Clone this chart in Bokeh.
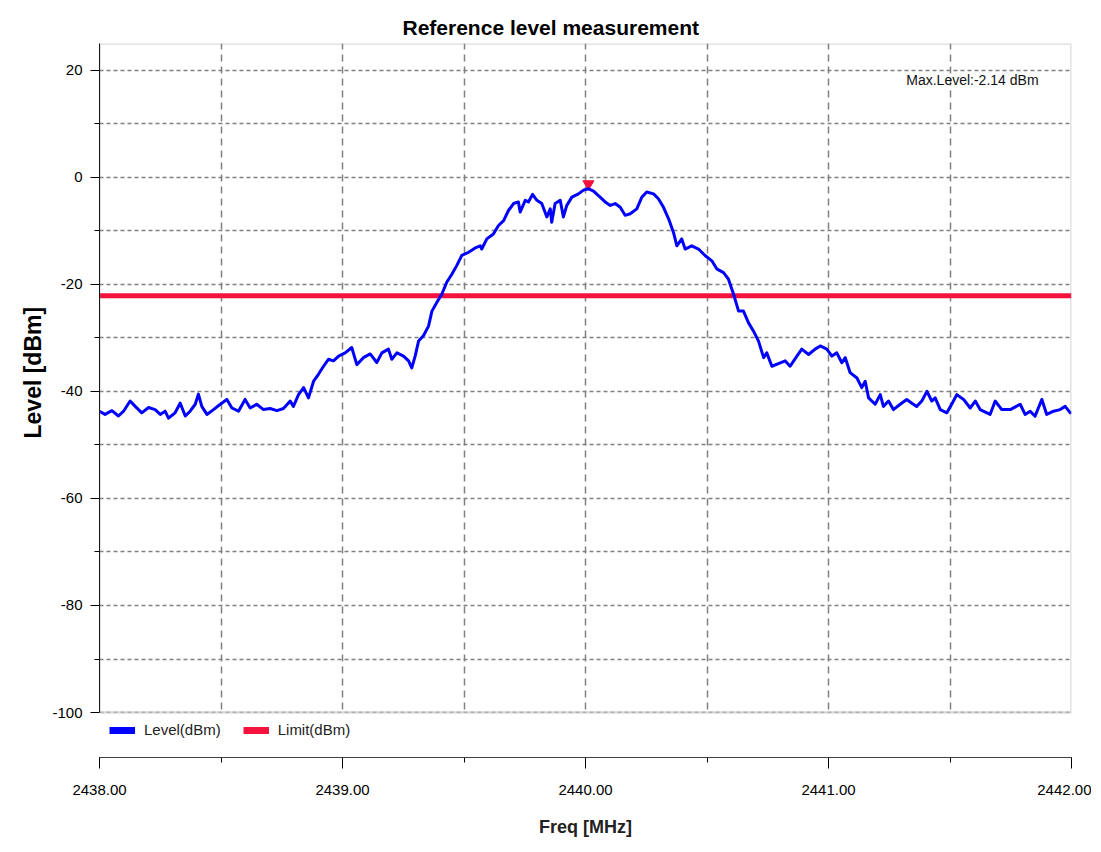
from bokeh.plotting import figure
from bokeh.models import (ColumnDataSource, Range1d, SingleIntervalTicker, Title,
                          NumeralTickFormatter, Legend, LegendItem, Label, BoxAnnotation)
from bokeh.embed import file_html
from bokeh.resources import INLINE

# ---------------- data ----------------
freq = [2438.000, 2438.023, 2438.051, 2438.078, 2438.099, 2438.126, 2438.147, 2438.174, 2438.202, 2438.229,
        2438.250, 2438.270, 2438.284, 2438.311, 2438.332, 2438.353, 2438.373, 2438.394, 2438.407, 2438.421,
        2438.442, 2438.469, 2438.497, 2438.524, 2438.545, 2438.572, 2438.599, 2438.620, 2438.647, 2438.675,
        2438.702, 2438.730, 2438.757, 2438.785, 2438.798, 2438.819, 2438.840, 2438.860, 2438.881, 2438.901,
        2438.922, 2438.942, 2438.963, 2438.984, 2439.011, 2439.038, 2439.059, 2439.086, 2439.114, 2439.141,
        2439.162, 2439.189, 2439.203, 2439.224, 2439.251, 2439.272, 2439.285, 2439.299, 2439.313, 2439.333,
        2439.354, 2439.368, 2439.388, 2439.409, 2439.429, 2439.450, 2439.470, 2439.491, 2439.519, 2439.546,
        2439.567, 2439.573, 2439.594, 2439.621, 2439.642, 2439.663, 2439.683, 2439.704, 2439.724, 2439.731,
        2439.752, 2439.765, 2439.782, 2439.800, 2439.820, 2439.841, 2439.855, 2439.861, 2439.875, 2439.896,
        2439.909, 2439.923, 2439.944, 2439.971, 2439.992, 2440.012, 2440.033, 2440.060, 2440.081, 2440.102,
        2440.122, 2440.143, 2440.163, 2440.184, 2440.211, 2440.232, 2440.252, 2440.280, 2440.300, 2440.321,
        2440.342, 2440.362, 2440.376, 2440.396, 2440.410, 2440.437, 2440.465, 2440.492, 2440.520, 2440.540,
        2440.568, 2440.588, 2440.609, 2440.630, 2440.650, 2440.671, 2440.691, 2440.712, 2440.733, 2440.746,
        2440.767, 2440.794, 2440.822, 2440.842, 2440.870, 2440.890, 2440.918, 2440.945, 2440.966, 2440.993,
        2441.014, 2441.034, 2441.055, 2441.069, 2441.089, 2441.117, 2441.137, 2441.151, 2441.165, 2441.192,
        2441.213, 2441.226, 2441.247, 2441.267, 2441.295, 2441.322, 2441.343, 2441.363, 2441.384, 2441.405,
        2441.425, 2441.439, 2441.460, 2441.487, 2441.507, 2441.528, 2441.556, 2441.583, 2441.604, 2441.624,
        2441.665, 2441.686, 2441.713, 2441.748, 2441.789, 2441.809, 2441.830, 2441.850, 2441.878, 2441.898,
        2441.926, 2441.953, 2441.974, 2441.995, 2442.000]

level = [-43.7, -44.3, -43.6, -44.6, -43.7, -41.8, -42.8, -44.0, -43.0, -43.4,
         -44.3, -43.7, -45.0, -44.0, -42.2, -44.6, -43.7, -42.4, -40.5, -42.8,
         -44.3, -43.4, -42.4, -41.5, -43.1, -43.7, -41.5, -43.1, -42.4, -43.4,
         -43.2, -43.6, -43.2, -41.8, -42.8, -40.6, -39.3, -41.2, -38.1, -36.8,
         -35.3, -34.0, -34.3, -33.4, -32.8, -31.8, -35.0, -33.7, -33.0, -34.6,
         -32.8, -32.1, -34.0, -32.8, -33.4, -34.3, -35.6, -33.4, -30.6, -29.6,
         -27.8, -25.0, -23.4, -21.8, -19.6, -18.1, -16.5, -14.6, -14.0, -13.2,
         -12.8, -13.4, -11.5, -10.6, -9.0, -8.1, -6.2, -4.9, -4.6, -6.5,
         -4.3, -4.6, -3.2, -4.3, -4.9, -7.4, -5.9, -8.4, -4.9, -4.3,
         -7.4, -5.25, -3.7, -3.1, -2.4, -2.14, -2.6, -3.7, -4.6, -5.25,
         -4.9, -5.6, -7.1, -6.8, -5.9, -3.7, -2.75, -3.1, -4.0, -5.6,
         -7.75, -10.3, -12.8, -11.5, -13.4, -12.8, -13.4, -14.6, -15.6, -17.1,
         -17.8, -19.0, -21.8, -25.0, -25.0, -27.2, -28.7, -30.6, -33.7, -32.8,
         -35.3, -34.8, -34.3, -35.3, -33.4, -32.1, -33.1, -32.1, -31.5, -32.1,
         -33.4, -32.8, -34.65, -33.7, -36.5, -37.5, -39.3, -38.1, -41.2, -42.4,
         -40.6, -42.8, -41.8, -43.4, -42.4, -41.5, -42.2, -42.8, -41.8, -40.0,
         -41.8, -41.2, -43.4, -44.0, -42.4, -40.6, -41.5, -43.1, -41.8, -43.4,
         -44.3, -41.8, -43.4, -43.4, -42.4, -44.3, -43.7, -44.65, -41.5, -44.3,
         -43.7, -43.4, -42.8, -44.0, -44.0]

limit_level = -22.14
title_text = "Reference level measurement"
x_label = "Freq [MHz]"
y_label = "Level [dBm]"
series_names = ["Level(dBm)", "Limit(dBm)"]

# axis extents
Y_MIN, Y_MAX = -100, 25
X_MIN, X_MAX = 2438, 2442
LEGEND_STRIP = 8.4   # dB of extra room below the grid for the legend strip

# ---------------- styling ----------------
FONT = "Liberation Sans"
BLUE = "#0000ff"
RED = "#f5123c"
GRID = "#808080"

p = figure(frame_width=972, frame_height=714,
           x_range=Range1d(X_MIN, X_MAX), y_range=Range1d(Y_MIN - LEGEND_STRIP, Y_MAX),
           output_backend="svg", toolbar_location=None,
           min_border_left=99, min_border_right=20, min_border_top=43, min_border_bottom=0,
           background_fill_color="white", border_fill_color="white")

p.outline_line_color = None

# title
p.title.text = title_text
p.title.align = "left"
p.title.offset = 303
p.title.text_font = FONT
p.title.text_font_size = "21px"
p.title.text_font_style = "bold"
p.title.text_color = "#000000"

# y axis
yax = p.yaxis[0]
yax.ticker = SingleIntervalTicker(interval=20, num_minor_ticks=2)
yax.formatter = NumeralTickFormatter(format="0")
yax.bounds = (Y_MIN, Y_MAX)
yax.major_label_text_font = FONT
yax.major_label_text_font_size = "15px"
yax.major_label_text_color = "#000000"
yax.major_label_standoff = 8
yax.major_tick_out = 9
yax.major_tick_in = 0
yax.minor_tick_out = 5
yax.minor_tick_in = 0
yax.axis_line_color = "#000000"
yax.major_tick_line_color = "#000000"
yax.minor_tick_line_color = "#000000"

# y axis title, centred on the -100..25 part of the frame
p.add_layout(Title(text=y_label, align="left", offset=319, text_font=FONT,
                   text_font_size="23px", text_font_style="bold", text_color="#000000",
                   standoff=8), "left")

# x axis
xax = p.xaxis[0]
xax.ticker = SingleIntervalTicker(interval=1, num_minor_ticks=2)
xax.formatter = NumeralTickFormatter(format="0.00")
xax.axis_label = x_label
xax.axis_label_text_font = FONT
xax.axis_label_text_font_size = "18px"
xax.axis_label_text_font_style = "bold"
xax.axis_label_text_color = "#222222"
xax.axis_label_standoff = 19
xax.major_label_text_font = FONT
xax.major_label_text_font_size = "15px"
xax.major_label_text_color = "#000000"
xax.major_label_standoff = 16
xax.major_tick_out = 11
xax.major_tick_in = 0
xax.minor_tick_out = 5
xax.minor_tick_in = 0
xax.axis_line_color = "#000000"

# grids
p.xgrid.ticker = SingleIntervalTicker(interval=0.5)
p.ygrid.ticker = SingleIntervalTicker(interval=10)
p.xgrid.grid_line_color = GRID
p.ygrid.grid_line_color = GRID
p.xgrid.grid_line_dash = "7 5"
p.ygrid.grid_line_dash = "4 3"
p.xgrid.grid_line_width = 1.5
p.ygrid.grid_line_width = 1.5

# white strip below the plotting area (holds the legend), then the gray plot border
p.add_layout(BoxAnnotation(top=Y_MIN, fill_color="white", fill_alpha=1.0, line_color=None,
                           level="annotation"))
p.add_layout(BoxAnnotation(bottom=Y_MIN, fill_color=None, fill_alpha=0, line_color="#8a8a8a",
                           line_width=2.5, level="annotation"))

# data
src = ColumnDataSource(dict(freq=freq, level=level))
lim_src = ColumnDataSource(dict(freq=[freq[0], freq[-1]], level=[limit_level, limit_level]))

peak_i = level.index(max(level))
peak_src = ColumnDataSource(dict(freq=[freq[peak_i]], level=[level[peak_i] + 0.9]))

p.line("freq", "level", source=lim_src, line_color=RED, line_width=5)
p.scatter("freq", "level", source=peak_src, marker="inverted_triangle", size=11,
          fill_color=RED, line_color=RED)
p.line("freq", "level", source=src, line_color=BLUE, line_width=3, line_join="round")

# legend swatches: hidden renderers of the same data with thick lines
leg_blue = p.line("freq", "level", source=src, line_color=BLUE, line_width=7, visible=False)
leg_red = p.line("freq", "level", source=lim_src, line_color=RED, line_width=7, visible=False)
legend = Legend(items=[LegendItem(label=series_names[0], renderers=[leg_blue]),
                       LegendItem(label=series_names[1], renderers=[leg_red])],
                orientation="horizontal", location=(0, 9),
                padding=10, margin=0, spacing=22,
                glyph_width=26, glyph_height=16, label_height=16,
                label_standoff=9, label_text_font=FONT, label_text_font_size="15px",
                label_text_color="#222222", inactive_fill_alpha=0,
                border_line_color="white", border_line_alpha=0, background_fill_alpha=0)
p.add_layout(legend, "center")

# max level annotation
p.add_layout(Label(x=2441.32, y=18.1, text="Max.Level:%.2f dBm" % max(level),
                   text_font=FONT, text_font_size="14px", text_color="#111111",
                   text_baseline="middle", text_align="left"))

open("out.html", "w").write(file_html(p, INLINE))
